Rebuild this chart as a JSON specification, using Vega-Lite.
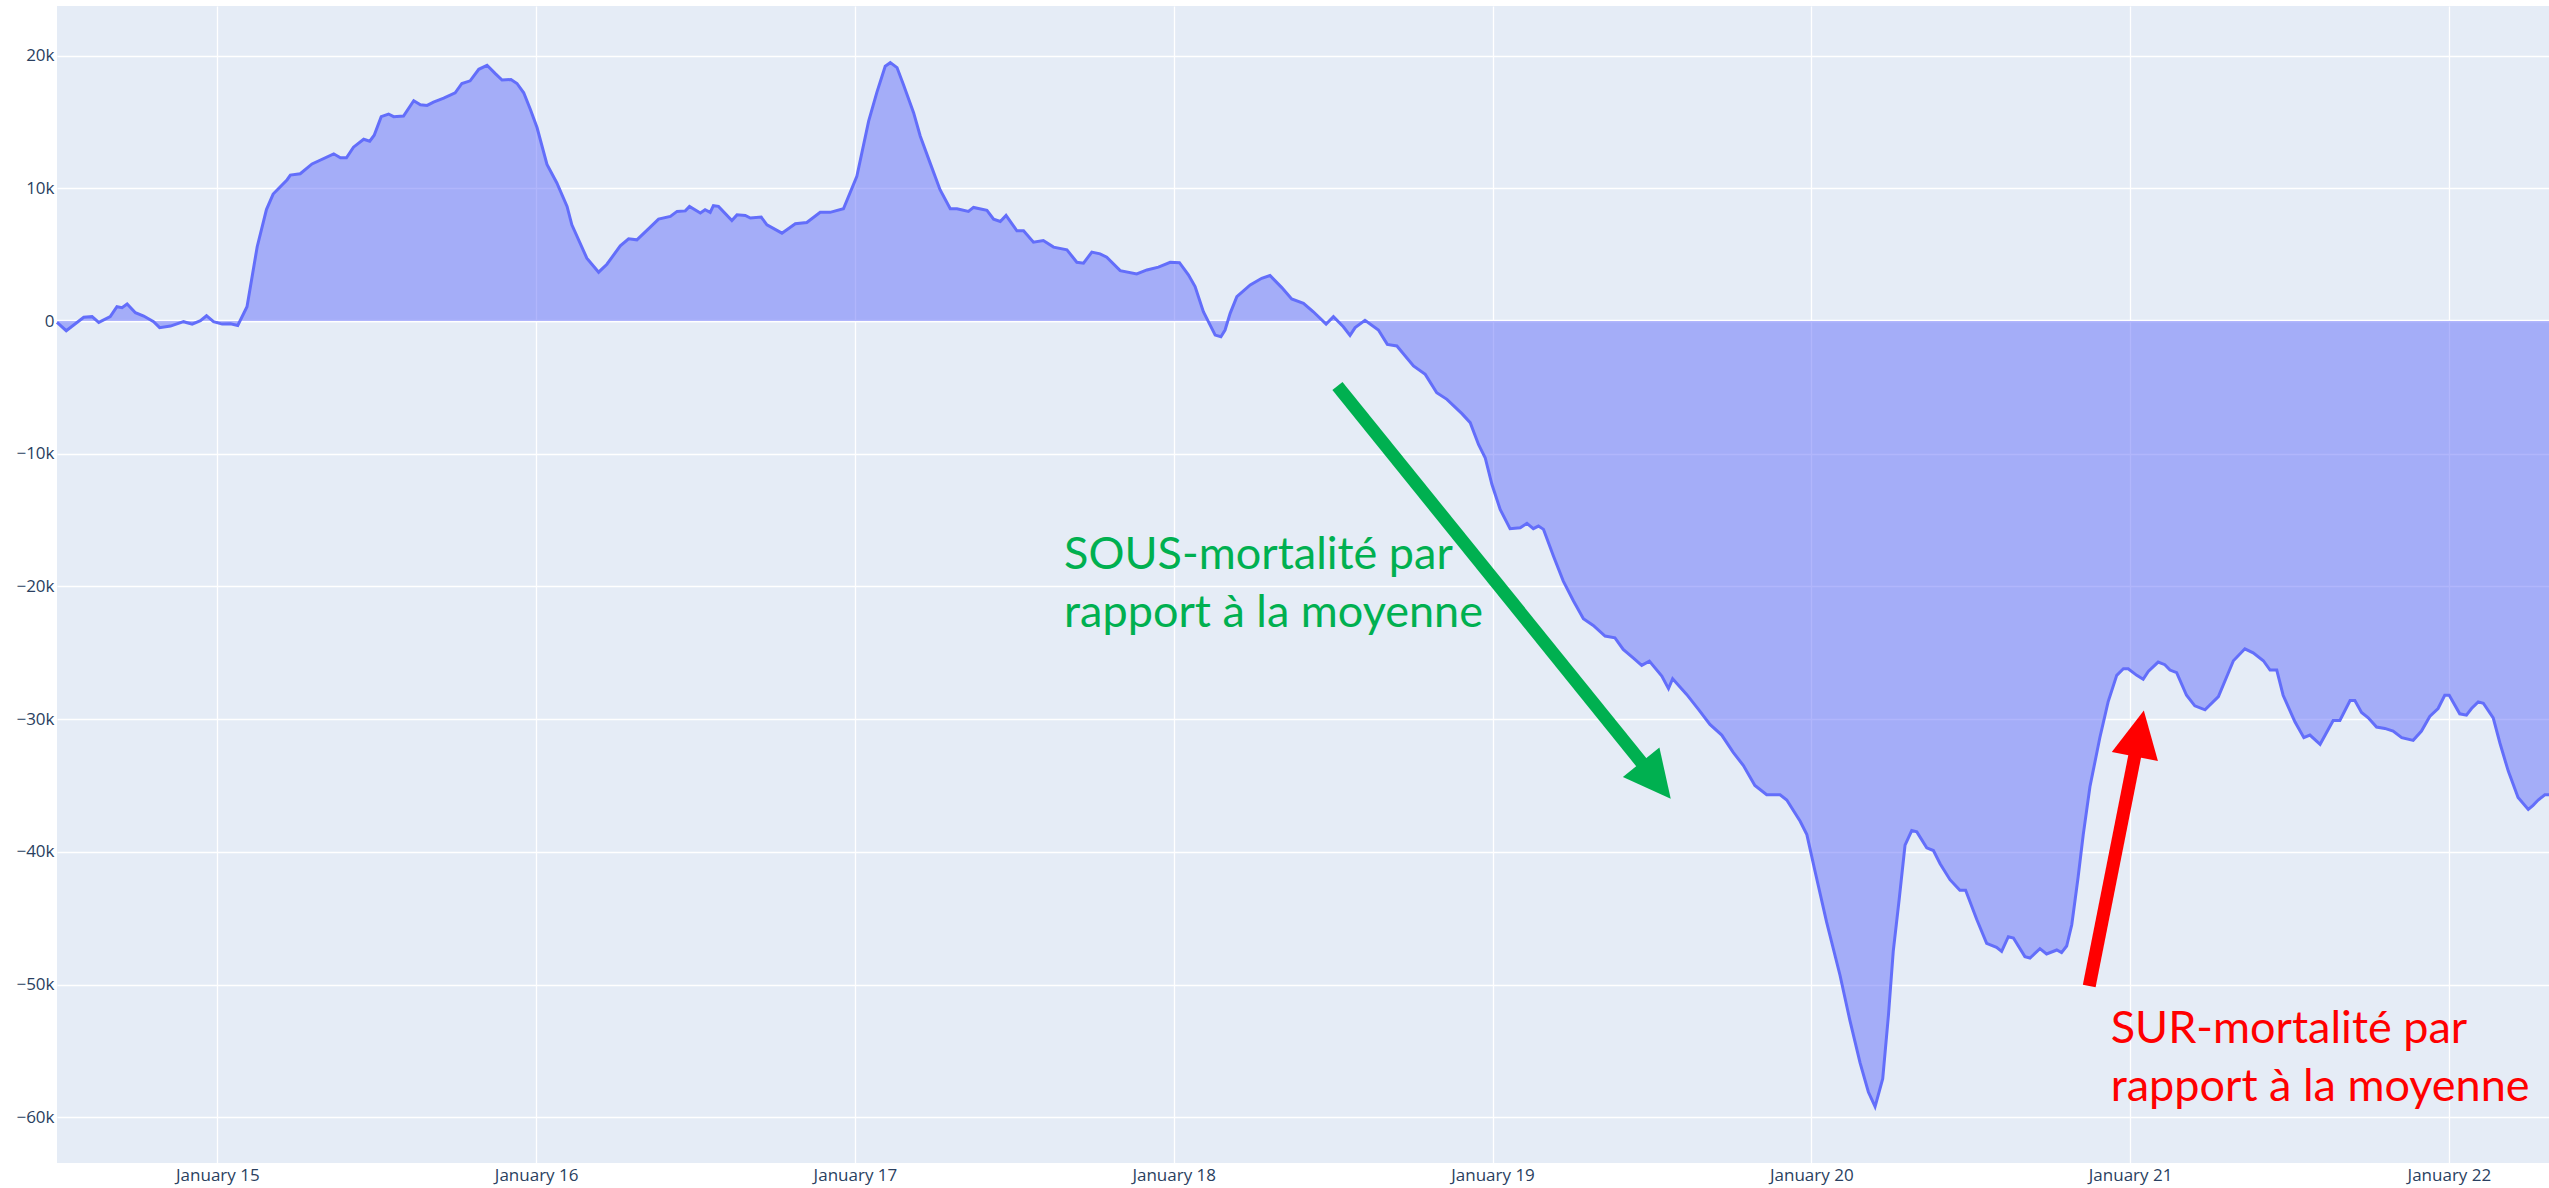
{
  "$schema": "https://vega.github.io/schema/vega-lite/v6.json",
  "width": 2492,
  "height": 1157,
  "autosize": {"type": "none"},
  "padding": {"left": 57, "top": 6, "right": 0, "bottom": 25},
  "background": "white",
  "config": {
    "view": {"fill": "#E5ECF6", "stroke": null},
    "axis": {
      "domain": false,
      "ticks": false,
      "tickSize": 0,
      "grid": true,
      "gridColor": "#ffffff",
      "gridWidth": 1.3,
      "labelFont": "Open Sans",
      "labelFontSize": 17,
      "labelColor": "#2a3f5f",
      "title": null
    }
  },
  "datasets": {
    "excess": [
      {"t": 2014.497, "v": -100}, {"t": 2014.526, "v": -730}, {"t": 2014.581, "v": 280}, {"t": 2014.607, "v": 330},
      {"t": 2014.628, "v": -100}, {"t": 2014.664, "v": 330}, {"t": 2014.685, "v": 1080}, {"t": 2014.701, "v": 1000},
      {"t": 2014.717, "v": 1280}, {"t": 2014.743, "v": 630}, {"t": 2014.769, "v": 380}, {"t": 2014.8, "v": -50},
      {"t": 2014.819, "v": -500}, {"t": 2014.853, "v": -380}, {"t": 2014.894, "v": -50}, {"t": 2014.921, "v": -230},
      {"t": 2014.947, "v": 30}, {"t": 2014.966, "v": 400}, {"t": 2014.988, "v": -50}, {"t": 2015.015, "v": -230},
      {"t": 2015.041, "v": -200}, {"t": 2015.064, "v": -330}, {"t": 2015.093, "v": 1080}, {"t": 2015.125, "v": 5600},
      {"t": 2015.154, "v": 8400}, {"t": 2015.175, "v": 9570}, {"t": 2015.219, "v": 10650}, {"t": 2015.229, "v": 11000},
      {"t": 2015.26, "v": 11100}, {"t": 2015.297, "v": 11840}, {"t": 2015.365, "v": 12600}, {"t": 2015.386, "v": 12300},
      {"t": 2015.405, "v": 12300}, {"t": 2015.427, "v": 13100}, {"t": 2015.459, "v": 13700}, {"t": 2015.478, "v": 13550},
      {"t": 2015.492, "v": 14000}, {"t": 2015.514, "v": 15400}, {"t": 2015.537, "v": 15600}, {"t": 2015.553, "v": 15400},
      {"t": 2015.584, "v": 15450}, {"t": 2015.616, "v": 16600}, {"t": 2015.637, "v": 16300}, {"t": 2015.658, "v": 16250},
      {"t": 2015.678, "v": 16500}, {"t": 2015.71, "v": 16800}, {"t": 2015.746, "v": 17200}, {"t": 2015.767, "v": 17900},
      {"t": 2015.793, "v": 18100}, {"t": 2015.82, "v": 18970}, {"t": 2015.846, "v": 19270}, {"t": 2015.872, "v": 18640},
      {"t": 2015.893, "v": 18160}, {"t": 2015.921, "v": 18200}, {"t": 2015.94, "v": 17900}, {"t": 2015.961, "v": 17200},
      {"t": 2015.982, "v": 15940}, {"t": 2016.003, "v": 14560}, {"t": 2016.034, "v": 11800}, {"t": 2016.065, "v": 10400},
      {"t": 2016.097, "v": 8640}, {"t": 2016.112, "v": 7250}, {"t": 2016.159, "v": 4740}, {"t": 2016.196, "v": 3680},
      {"t": 2016.222, "v": 4280}, {"t": 2016.264, "v": 5670}, {"t": 2016.29, "v": 6200}, {"t": 2016.316, "v": 6120},
      {"t": 2016.358, "v": 7080}, {"t": 2016.384, "v": 7680}, {"t": 2016.421, "v": 7880}, {"t": 2016.442, "v": 8260},
      {"t": 2016.468, "v": 8300}, {"t": 2016.481, "v": 8640}, {"t": 2016.515, "v": 8140}, {"t": 2016.53, "v": 8390},
      {"t": 2016.546, "v": 8190}, {"t": 2016.556, "v": 8690}, {"t": 2016.572, "v": 8640}, {"t": 2016.614, "v": 7580},
      {"t": 2016.63, "v": 8000}, {"t": 2016.656, "v": 7960}, {"t": 2016.672, "v": 7760}, {"t": 2016.706, "v": 7830},
      {"t": 2016.724, "v": 7250}, {"t": 2016.771, "v": 6620}, {"t": 2016.813, "v": 7330}, {"t": 2016.849, "v": 7430},
      {"t": 2016.891, "v": 8190}, {"t": 2016.922, "v": 8190}, {"t": 2016.964, "v": 8460}, {"t": 2017.006, "v": 10900},
      {"t": 2017.043, "v": 15060}, {"t": 2017.069, "v": 17250}, {"t": 2017.095, "v": 19200}, {"t": 2017.111, "v": 19470},
      {"t": 2017.132, "v": 19100}, {"t": 2017.152, "v": 17830}, {"t": 2017.184, "v": 15700}, {"t": 2017.205, "v": 13930},
      {"t": 2017.236, "v": 11900}, {"t": 2017.267, "v": 9900}, {"t": 2017.299, "v": 8460}, {"t": 2017.32, "v": 8460},
      {"t": 2017.356, "v": 8260}, {"t": 2017.372, "v": 8560}, {"t": 2017.414, "v": 8340}, {"t": 2017.435, "v": 7680},
      {"t": 2017.456, "v": 7500}, {"t": 2017.474, "v": 7960}, {"t": 2017.508, "v": 6800}, {"t": 2017.529, "v": 6800},
      {"t": 2017.56, "v": 5940}, {"t": 2017.591, "v": 6070}, {"t": 2017.623, "v": 5570}, {"t": 2017.665, "v": 5370},
      {"t": 2017.696, "v": 4430}, {"t": 2017.717, "v": 4360}, {"t": 2017.743, "v": 5190}, {"t": 2017.769, "v": 5060},
      {"t": 2017.79, "v": 4810}, {"t": 2017.832, "v": 3800}, {"t": 2017.884, "v": 3550}, {"t": 2017.916, "v": 3850},
      {"t": 2017.952, "v": 4060}, {"t": 2017.989, "v": 4430}, {"t": 2018.018, "v": 4400}, {"t": 2018.046, "v": 3480},
      {"t": 2018.067, "v": 2600}, {"t": 2018.093, "v": 700}, {"t": 2018.13, "v": -1060}, {"t": 2018.148, "v": -1180},
      {"t": 2018.161, "v": -680}, {"t": 2018.177, "v": 580}, {"t": 2018.198, "v": 1840}, {"t": 2018.24, "v": 2720},
      {"t": 2018.276, "v": 3220}, {"t": 2018.302, "v": 3430}, {"t": 2018.339, "v": 2520}, {"t": 2018.37, "v": 1660},
      {"t": 2018.407, "v": 1340}, {"t": 2018.438, "v": 700}, {"t": 2018.478, "v": -230}, {"t": 2018.501, "v": 330},
      {"t": 2018.532, "v": -430}, {"t": 2018.553, "v": -1080}, {"t": 2018.569, "v": -500}, {"t": 2018.6, "v": 50},
      {"t": 2018.642, "v": -680}, {"t": 2018.67, "v": -1760}, {"t": 2018.7, "v": -1880}, {"t": 2018.752, "v": -3390},
      {"t": 2018.789, "v": -4020}, {"t": 2018.825, "v": -5400}, {"t": 2018.857, "v": -5900}, {"t": 2018.904, "v": -6980},
      {"t": 2018.93, "v": -7660}, {"t": 2018.956, "v": -9300}, {"t": 2018.977, "v": -10300}, {"t": 2018.998, "v": -12300},
      {"t": 2019.024, "v": -14200}, {"t": 2019.055, "v": -15650}, {"t": 2019.087, "v": -15580}, {"t": 2019.108, "v": -15250},
      {"t": 2019.128, "v": -15650}, {"t": 2019.144, "v": -15450}, {"t": 2019.16, "v": -15700}, {"t": 2019.191, "v": -17700},
      {"t": 2019.222, "v": -19600}, {"t": 2019.254, "v": -21100}, {"t": 2019.285, "v": -22440}, {"t": 2019.316, "v": -22940},
      {"t": 2019.353, "v": -23740}, {"t": 2019.384, "v": -23870}, {"t": 2019.41, "v": -24750}, {"t": 2019.442, "v": -25400},
      {"t": 2019.468, "v": -25950}, {"t": 2019.492, "v": -25630}, {"t": 2019.531, "v": -26760}, {"t": 2019.552, "v": -27700},
      {"t": 2019.565, "v": -26960}, {"t": 2019.609, "v": -28140}, {"t": 2019.646, "v": -29270}, {"t": 2019.682, "v": -30400},
      {"t": 2019.719, "v": -31200}, {"t": 2019.755, "v": -32500}, {"t": 2019.787, "v": -33500}, {"t": 2019.823, "v": -35000},
      {"t": 2019.86, "v": -35700}, {"t": 2019.902, "v": -35700}, {"t": 2019.923, "v": -36100}, {"t": 2019.965, "v": -37700},
      {"t": 2019.986, "v": -38700}, {"t": 2020.012, "v": -41500}, {"t": 2020.048, "v": -45300}, {"t": 2020.09, "v": -49300},
      {"t": 2020.121, "v": -52700}, {"t": 2020.153, "v": -55900}, {"t": 2020.179, "v": -58100}, {"t": 2020.2, "v": -59200},
      {"t": 2020.224, "v": -57100}, {"t": 2020.242, "v": -52300}, {"t": 2020.257, "v": -47500}, {"t": 2020.276, "v": -43500},
      {"t": 2020.294, "v": -39500}, {"t": 2020.315, "v": -38400}, {"t": 2020.331, "v": -38500}, {"t": 2020.362, "v": -39700},
      {"t": 2020.383, "v": -39900}, {"t": 2020.404, "v": -40900}, {"t": 2020.435, "v": -42100}, {"t": 2020.466, "v": -42900},
      {"t": 2020.484, "v": -42900}, {"t": 2020.519, "v": -45100}, {"t": 2020.55, "v": -46900}, {"t": 2020.581, "v": -47200},
      {"t": 2020.597, "v": -47500}, {"t": 2020.618, "v": -46400}, {"t": 2020.634, "v": -46500}, {"t": 2020.67, "v": -47900},
      {"t": 2020.686, "v": -48000}, {"t": 2020.717, "v": -47300}, {"t": 2020.738, "v": -47700}, {"t": 2020.77, "v": -47400},
      {"t": 2020.785, "v": -47600}, {"t": 2020.801, "v": -47100}, {"t": 2020.817, "v": -45500}, {"t": 2020.837, "v": -41900},
      {"t": 2020.853, "v": -38700}, {"t": 2020.874, "v": -35100}, {"t": 2020.905, "v": -31400}, {"t": 2020.931, "v": -28700},
      {"t": 2020.958, "v": -26700}, {"t": 2020.979, "v": -26200}, {"t": 2020.994, "v": -26200}, {"t": 2021.021, "v": -26700},
      {"t": 2021.041, "v": -27000}, {"t": 2021.057, "v": -26400}, {"t": 2021.088, "v": -25700}, {"t": 2021.109, "v": -25900},
      {"t": 2021.125, "v": -26300}, {"t": 2021.146, "v": -26500}, {"t": 2021.177, "v": -28200}, {"t": 2021.203, "v": -29000},
      {"t": 2021.235, "v": -29300}, {"t": 2021.277, "v": -28300}, {"t": 2021.324, "v": -25600}, {"t": 2021.36, "v": -24700},
      {"t": 2021.386, "v": -25000}, {"t": 2021.418, "v": -25600}, {"t": 2021.439, "v": -26300}, {"t": 2021.46, "v": -26300},
      {"t": 2021.48, "v": -28200}, {"t": 2021.517, "v": -30200}, {"t": 2021.545, "v": -31400}, {"t": 2021.564, "v": -31200},
      {"t": 2021.596, "v": -31900}, {"t": 2021.637, "v": -30100}, {"t": 2021.658, "v": -30100}, {"t": 2021.69, "v": -28600},
      {"t": 2021.705, "v": -28600}, {"t": 2021.726, "v": -29500}, {"t": 2021.747, "v": -29900}, {"t": 2021.773, "v": -30600},
      {"t": 2021.799, "v": -30700}, {"t": 2021.825, "v": -30900}, {"t": 2021.852, "v": -31400}, {"t": 2021.888, "v": -31600},
      {"t": 2021.914, "v": -30900}, {"t": 2021.94, "v": -29800}, {"t": 2021.966, "v": -29200}, {"t": 2021.987, "v": -28200},
      {"t": 2022.001, "v": -28200}, {"t": 2022.034, "v": -29600}, {"t": 2022.055, "v": -29700}, {"t": 2022.071, "v": -29200},
      {"t": 2022.092, "v": -28700}, {"t": 2022.108, "v": -28800}, {"t": 2022.139, "v": -29900}, {"t": 2022.16, "v": -31800},
      {"t": 2022.186, "v": -33900}, {"t": 2022.217, "v": -35900}, {"t": 2022.249, "v": -36800}, {"t": 2022.264, "v": -36500},
      {"t": 2022.28, "v": -36100}, {"t": 2022.301, "v": -35700}, {"t": 2022.314, "v": -35700}
    ],
    "arrows": [
      {"kind": "sous", "t": 2018.5135, "v": -4898, "t2": 2019.4941, "v2": -34062},
      {"kind": "sur", "t": 2020.8718, "v": -50113, "t2": 2021.0214, "v2": -31952}
    ],
    "heads": [
      {"kind": "sous", "t": 2019.5126, "v": -34627},
      {"kind": "sur", "t": 2021.029, "v": -31085}
    ],
    "notes": [
      {"kind": "sous", "t": 2017.656, "v": -18710, "label": "SOUS-mortalité par"},
      {"kind": "sous", "t": 2017.656, "v": -23040, "label": "rapport à la moyenne"},
      {"kind": "sur", "t": 2020.939, "v": -54430, "label": "SUR-mortalité par"},
      {"kind": "sur", "t": 2020.939, "v": -58760, "label": "rapport à la moyenne"}
    ]
  },
  "layer": [
    {
      "data": {"values": [{}]},
      "mark": {"type": "rule", "color": "#ffffff", "strokeWidth": 2.5},
      "encoding": {
        "y": {
          "datum": 0, "type": "quantitative",
          "scale": {"domain": [-63450, 23740], "nice": false, "zero": false},
          "axis": {
            "values": [-60000, -50000, -40000, -30000, -20000, -10000, 0, 10000, 20000],
            "format": "~s",
            "labelExpr": "datum.value == 0 ? '0' : datum.label",
            "labelPadding": 3
          }
        }
      }
    },
    {
      "data": {"name": "excess"},
      "mark": {"type": "area", "color": "#636efa", "fillOpacity": 0.5, "line": {"color": "#636efa", "strokeWidth": 3}},
      "encoding": {
        "x": {
          "field": "t", "type": "quantitative",
          "scale": {"domain": [2014.497, 2022.314], "nice": false, "zero": false},
          "axis": {
            "values": [2015, 2016, 2017, 2018, 2019, 2020, 2021, 2022],
            "labelExpr": "'January ' + substring(toString(datum.value), 2, 4)",
            "labelBaseline": "alphabetic",
            "labelPadding": 17,
            "labelFlush": false,
            "labelOverlap": false
          }
        },
        "y": {
          "field": "v", "type": "quantitative",
          "scale": {"domain": [-63450, 23740], "nice": false, "zero": false},
          "axis": {
            "values": [-60000, -50000, -40000, -30000, -20000, -10000, 0, 10000, 20000],
            "format": "~s",
            "labelExpr": "datum.value == 0 ? '0' : datum.label",
            "labelPadding": 3
          }
        },
        "y2": {"datum": 0}
      }
    },
    {
      "data": {"name": "arrows"},
      "mark": {"type": "rule", "strokeWidth": 13, "strokeCap": "butt"},
      "encoding": {
        "x": {"field": "t", "type": "quantitative"},
        "y": {"field": "v", "type": "quantitative"},
        "x2": {"field": "t2"},
        "y2": {"field": "v2"},
        "color": {"field": "kind", "type": "nominal", "scale": {"domain": ["sous", "sur"], "range": ["#00B050", "#FF0000"]}, "legend": null}
      }
    },
    {
      "data": {"name": "heads"},
      "transform": [{"filter": "datum.kind == 'sous'"}],
      "mark": {"type": "point", "shape": "M0,-1L1,1L-1,1Z", "size": 2209, "filled": true, "opacity": 1, "angle": 141},
      "encoding": {
        "x": {"field": "t", "type": "quantitative"},
        "y": {"field": "v", "type": "quantitative"},
        "color": {"field": "kind", "type": "nominal", "scale": {"domain": ["sous", "sur"], "range": ["#00B050", "#FF0000"]}, "legend": null}
      }
    },
    {
      "data": {"name": "heads"},
      "transform": [{"filter": "datum.kind == 'sur'"}],
      "mark": {"type": "point", "shape": "M0,-1L1,1L-1,1Z", "size": 2209, "filled": true, "opacity": 1, "angle": 11},
      "encoding": {
        "x": {"field": "t", "type": "quantitative"},
        "y": {"field": "v", "type": "quantitative"},
        "color": {"field": "kind", "type": "nominal", "scale": {"domain": ["sous", "sur"], "range": ["#00B050", "#FF0000"]}, "legend": null}
      }
    },
    {
      "data": {"name": "notes"},
      "mark": {"type": "text", "align": "left", "baseline": "alphabetic", "font": "Lato", "fontSize": 45},
      "encoding": {
        "x": {"field": "t", "type": "quantitative"},
        "y": {"field": "v", "type": "quantitative"},
        "text": {"field": "label"},
        "color": {"field": "kind", "type": "nominal", "scale": {"domain": ["sous", "sur"], "range": ["#00B050", "#FF0000"]}, "legend": null}
      }
    }
  ]
}
